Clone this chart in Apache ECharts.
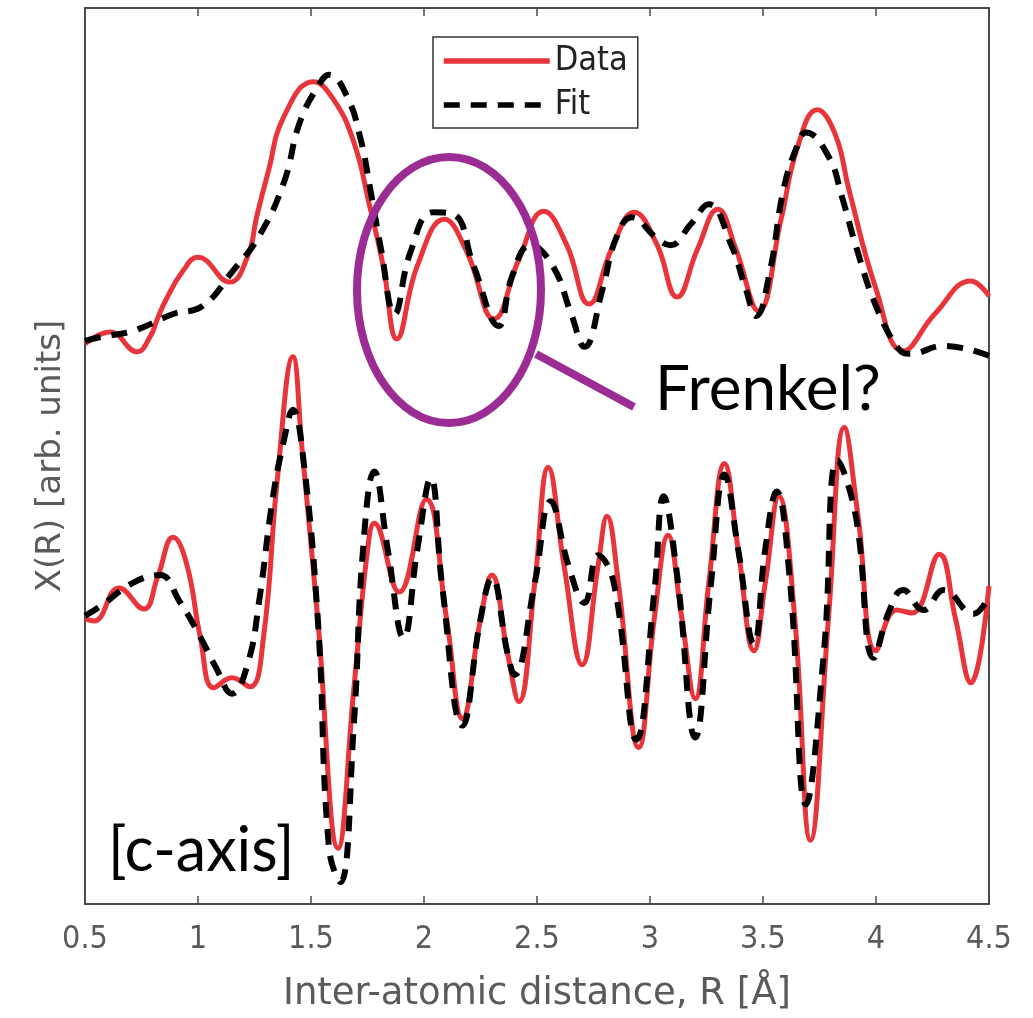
<!DOCTYPE html>
<html>
<head>
<meta charset="utf-8">
<script src="https://cdn.jsdelivr.net/npm/echarts@6/dist/echarts.min.js"></script>
<style>
html,body{margin:0;padding:0;background:#fff;}
#chart{width:1033px;height:1018px;}
</style>
</head>
<body>
<div id="chart"></div>
<script>
// R in Å, chi(R) in arbitrary units (upper pair offset above lower pair)
const xTicks = [0.5, 1, 1.5, 2, 2.5, 3, 3.5, 4, 4.5];

const topData = [
[0.50,562],[0.61,574],[0.73,554],[0.79,570],[0.82,587],[0.86,607],[0.93,634],[1.00,649],[1.14,624],[1.22,650],[1.26,690],[1.31,734],
[1.38,790],[1.51,825],[1.60,807],[1.69,764],[1.76,700],[1.82,640],[1.88,567],[1.97,640],
[2.09,687],[2.19,654],[2.31,587],[2.42,647],[2.53,695],[2.63,662],[2.73,602],[2.83,657],
[2.93,694],[3.03,662],[3.12,609],[3.21,657],[3.30,697],[3.38,657],[3.48,595],[3.58,687],
[3.65,757],[3.74,797],[3.82,772],[3.88,717],[4.00,617],[4.12,555],[4.26,592],[4.42,625],[4.50,610]
];

const topFit = [
[0.50,565],[0.57,569],[0.70,574],[0.77,580],[0.89,592],[1.02,600],[1.15,634],[1.27,670],
[1.38,724],[1.45,784],[1.53,820],[1.58,832],[1.66,810],[1.72,767],[1.76,720],[1.81,657],
[1.87,592],[1.94,654],[2.04,694],[2.13,692],[2.22,640],[2.33,580],[2.39,630],[2.47,661],
[2.57,640],[2.65,593],[2.71,559],[2.79,617],[2.85,668],[2.92,689],[3.03,668],[3.09,661],
[3.18,682],[3.26,702],[3.36,661],[3.42,620],[3.47,590],[3.53,634],[3.59,716],[3.65,760],
[3.69,774],[3.79,750],[3.85,709],[3.91,661],[4.00,600],[4.10,557],[4.15,552],[4.30,560],[4.50,550]
];

const bottomData = [
[0.50,286],[0.54,284],[0.65,317],[0.76,296],[0.82,327],[0.89,368],[0.95,341],[1.01,268],
[1.07,217],[1.15,227],[1.23,218],[1.29,268],[1.35,424],[1.42,549],[1.46,458],[1.53,286],
[1.62,56],[1.69,217],[1.75,355],[1.78,382],[1.89,313],[2.01,406],[2.10,286],[2.17,186],
[2.25,286],[2.30,330],[2.37,251],[2.42,203],[2.49,322],[2.55,438],[2.62,339],[2.70,240],
[2.77,339],[2.81,389],[2.86,322],[2.95,157],[3.02,288],[3.08,370],[3.14,288],[3.20,206],
[3.26,322],[3.33,442],[3.39,356],[3.46,254],[3.51,322],[3.57,409],[3.64,288],[3.71,64],
[3.79,288],[3.86,478],[3.92,390],[4.00,254],[4.09,295],[4.16,292],[4.28,351],[4.35,288],
[4.42,222],[4.50,319]
];

const bottomFit = [
[0.50,289],[0.57,299],[0.71,322],[0.83,330],[0.92,303],[1.01,268],[1.08,237],[1.15,211],
[1.22,241],[1.27,303],[1.33,406],[1.38,465],[1.42,496],[1.46,458],[1.53,286],[1.58,55],
[1.63,22],[1.69,182],[1.73,355],[1.78,434],[1.84,355],[1.91,267],[1.97,355],[2.03,427],
[2.08,320],[2.17,179],[2.25,286],[2.30,327],[2.37,251],[2.40,230],[2.49,322],[2.56,404],
[2.64,339],[2.71,302],[2.77,350],[2.84,322],[2.94,165],[3.02,315],[3.06,409],[3.12,330],
[3.20,167],[3.27,322],[3.33,431],[3.39,356],[3.46,261],[3.51,356],[3.56,414],[3.62,322],
[3.69,100],[3.77,254],[3.83,445],[3.91,390],[3.99,247],[4.06,295],[4.12,315],[4.21,295],
[4.30,315],[4.43,291],[4.50,309]
];

const seriesNames = ['Data', 'Fit'];
const xTitle = 'Inter-atomic distance, R [Å]';
const yTitle = 'X(R) [arb. units]';
const notes = ['Frenkel?', '[c-axis]'];

const RED = '#E8343B';
const BLACK = '#000000';
const FRAME = '#4a4a4a';
const dataLine = { color: RED, width: 5, type: 'solid' };
const fitLine = { color: BLACK, width: 6, type: [16, 11] };

const chart = echarts.init(document.getElementById('chart'), null, { renderer: 'canvas' });

const option = {
  animation: false,
  backgroundColor: '#ffffff',
  grid: { left: 85, right: 44, top: 8, bottom: 111, containLabel: false },
  legend: {
    orient: 'vertical',
    left: 433, top: 37,
    padding: [7, 10, 6, 8],
    itemWidth: 106, itemHeight: 32, itemGap: 10,
    borderColor: '#333', borderWidth: 1.5, backgroundColor: '#fff',
    itemStyle: { opacity: 0, borderWidth: 0 },
    lineStyle: { width: 5.5 },
    textStyle: { fontSize: 34, color: '#222', fontFamily: 'DejaVu Sans Condensed', padding: [8, 0, 0, 0] },
    data: seriesNames
  },
  xAxis: [{
    type: 'value', min: xTicks[0], max: xTicks[xTicks.length - 1], interval: 0.5,
    position: 'bottom',
    name: xTitle, nameLocation: 'middle', nameGap: 72,
    nameTextStyle: { fontSize: 37, color: '#5a5a5a', fontFamily: 'DejaVu Sans' },
    axisLine: { show: true, onZero: false, lineStyle: { color: FRAME, width: 2 } },
    axisTick: { show: true, inside: true, length: 8, lineStyle: { color: FRAME, width: 1.5 } },
    axisLabel: { show: true, margin: 20, fontSize: 32, color: '#5a5a5a', fontFamily: 'DejaVu Sans Condensed' },
    splitLine: { show: false }
  }, {
    type: 'value', min: xTicks[0], max: xTicks[xTicks.length - 1], interval: 0.5,
    position: 'top',
    axisLine: { show: true, onZero: false, lineStyle: { color: FRAME, width: 2 } },
    axisTick: { show: true, inside: true, length: 8, lineStyle: { color: FRAME, width: 1.5 } },
    axisLabel: { show: false },
    splitLine: { show: false }
  }],
  yAxis: [{
    type: 'value', min: 0, max: 899, position: 'left',
    name: yTitle, nameLocation: 'middle', nameGap: 17, nameRotate: 90,
    nameTextStyle: { fontSize: 34, color: '#5a5a5a', fontFamily: 'DejaVu Sans' },
    axisLine: { show: true, onZero: false, lineStyle: { color: FRAME, width: 2 } },
    axisTick: { show: false }, axisLabel: { show: false }, splitLine: { show: false }
  }, {
    type: 'value', min: 0, max: 899, position: 'right',
    axisLine: { show: true, onZero: false, lineStyle: { color: FRAME, width: 2 } },
    axisTick: { show: false }, axisLabel: { show: false }, splitLine: { show: false }
  }],
  series: [
    { name: seriesNames[0], type: 'line', data: topData, smooth: 0.45, symbol: 'none', lineStyle: dataLine, itemStyle: { color: RED }, z: 2 },
    { name: seriesNames[1], type: 'line', data: topFit, smooth: 0.45, symbol: 'none', lineStyle: fitLine, itemStyle: { color: BLACK }, z: 3 },
    { name: seriesNames[0], type: 'line', data: bottomData, smooth: 0.45, symbol: 'none', lineStyle: dataLine, itemStyle: { color: RED }, z: 2 },
    { name: seriesNames[1], type: 'line', data: bottomFit, smooth: 0.45, symbol: 'none', lineStyle: fitLine, itemStyle: { color: BLACK }, z: 3 }
  ],
  graphic: [
    { type: 'ellipse', shape: { cx: 449, cy: 290, rx: 92, ry: 133 }, style: { fill: 'none', stroke: '#9B2C94', lineWidth: 8 }, z: 10 },
    { type: 'line', shape: { x1: 536, y1: 354, x2: 634, y2: 407 }, style: { stroke: '#9B2C94', lineWidth: 8 }, z: 10 },
    { type: 'text', x: 655, y: 390, style: { text: notes[0], fontSize: 62, fontFamily: 'Lato', fill: '#000', verticalAlign: 'middle' }, z: 10 },
    { type: 'text', x: 108, y: 851, style: { text: notes[1], fontSize: 61, fontFamily: 'Lato', fill: '#000', verticalAlign: 'middle' }, z: 10 }
  ]
};
chart.setOption(option);
</script>
</body>
</html>
